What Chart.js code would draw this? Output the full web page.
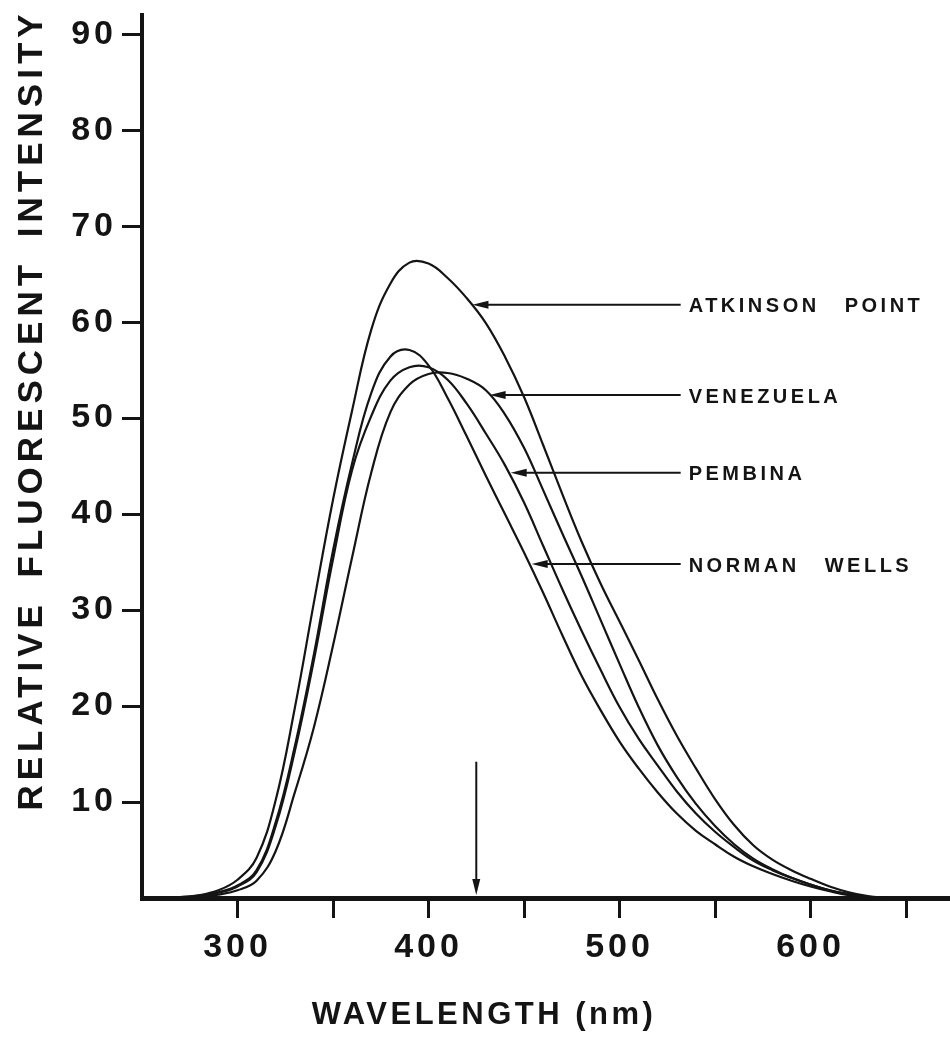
<!DOCTYPE html>
<html>
<head>
<meta charset="utf-8">
<title>Fluorescence spectra of crude oils</title>
<script src="https://cdn.jsdelivr.net/npm/chart.js@4"></script>
<style>
  html, body { margin: 0; padding: 0; background: #fff; }
  #wrap { width: 950px; height: 1038px; position: relative; }
</style>
</head>
<body>
<div id="wrap"><canvas id="spectra"></canvas></div>
<script>
// emission wavelength (nm) for every reading below
var wavelengths = [260, 270, 280, 290, 300, 310, 320, 330, 340, 350,
                   360, 370, 380, 390, 400, 410, 420, 430, 440, 450,
                   460, 470, 480, 490, 500, 510, 520, 530, 540, 550,
                   560, 570, 580, 590, 600, 610, 620, 630, 640];

// relative fluorescent intensity of each crude
var atkinsonPoint = [0, 0.1, 0.3, 0.8, 1.9, 4.2, 10.2, 19.8, 30.8, 41.5,
                     50.8, 59.2, 64.0, 66.2, 66.1, 64.6, 62.5, 59.9, 56.4, 52.2,
                     47.2, 42.1, 37.2, 32.8, 28.8, 24.8, 20.7, 16.9, 13.5, 10.3,
                     7.6, 5.5, 4.0, 2.9, 2.0, 1.2, 0.6, 0.2, 0];
var venezuela = [0, 0.03, 0.1, 0.35, 0.8, 1.8, 4.9, 11.0, 17.8, 26.3,
                 35.5, 44.3, 50.6, 53.5, 54.6, 54.7, 54.1, 52.9, 50.4, 46.9,
                 42.5, 38.0, 33.6, 29.0, 24.4, 19.9, 15.9, 12.6, 9.8, 7.5,
                 5.6, 4.1, 3.0, 2.1, 1.4, 0.8, 0.4, 0.1, 0];
var pembina = [0, 0.05, 0.2, 0.55, 1.2, 2.7, 7.5, 15.3, 24.8, 35.3,
               44.6, 50.2, 53.9, 55.3, 55.3, 54.0, 51.5, 48.4, 45.1, 41.2,
               36.7, 32.2, 27.9, 23.8, 19.9, 16.6, 13.8, 11.1, 8.8, 6.9,
               5.3, 3.9, 2.9, 2.1, 1.4, 0.8, 0.4, 0.1, 0];
var normanWells = [0, 0.05, 0.2, 0.6, 1.3, 2.9, 7.9, 15.8, 25.4, 36.2,
                   45.3, 52.6, 56.4, 57.1, 55.5, 52.1, 48.1, 44.0, 40.0, 36.0,
                   31.8, 27.4, 23.2, 19.6, 16.3, 13.5, 11.0, 8.8, 7.0, 5.6,
                   4.3, 3.3, 2.5, 1.8, 1.2, 0.7, 0.3, 0.1, 0];

var crudeNames = ['ATKINSON POINT', 'VENEZUELA', 'PEMBINA', 'NORMAN WELLS'];

// where each name's arrow touches its curve: [nm, intensity]
var calloutTips = [[423, 61.8], [432, 52.4], [443, 44.3], [454, 34.8]];
var calloutEnd = 532;       // nm where the leader lines stop
var excitation = 425;       // nm, marked with the upright arrow
var excitationTop = 14.2;

var xTicks = [300, 350, 400, 450, 500, 550, 600, 650];
var xLabelled = [300, 400, 500, 600];
var yTicks = [10, 20, 30, 40, 50, 60, 70, 80, 90];

var ink = '#141414';
var family = "'Liberation Sans', Arial, Helvetica, sans-serif";

function points(values) {
  return wavelengths.map(function (w, i) { return { x: w, y: values[i] }; });
}

function arrowHead(ctx, tipX, tipY, dx, dy) {
  var len = 16, half = 4;
  var bx = tipX - dx * len, by = tipY - dy * len;
  ctx.beginPath();
  ctx.moveTo(tipX, tipY);
  ctx.lineTo(bx - dy * half, by + dx * half);
  ctx.lineTo(bx + dy * half, by - dx * half);
  ctx.closePath();
  ctx.fill();
}

var decorations = {
  id: 'decorations',
  beforeDraw: function (chart) {
    // spaced-out tick numerals
    chart.ctx.letterSpacing = '4px';
  },
  afterDraw: function (chart) {
    var ctx = chart.ctx;
    var xs = chart.scales.x, ys = chart.scales.y;
    ctx.save();
    ctx.strokeStyle = ink;
    ctx.fillStyle = ink;
    ctx.lineWidth = 2;

    // name labels with leader arrows
    ctx.font = 'bold 20px ' + family;
    ctx.letterSpacing = '3.5px';
    ctx.wordSpacing = '16px';
    ctx.textBaseline = 'middle';
    ctx.textAlign = 'left';
    var ex = xs.getPixelForValue(calloutEnd);
    for (var i = 0; i < crudeNames.length; i++) {
      var tx = xs.getPixelForValue(calloutTips[i][0]);
      var ty = ys.getPixelForValue(calloutTips[i][1]);
      ctx.beginPath();
      ctx.moveTo(tx + 12, ty);
      ctx.lineTo(ex, ty);
      ctx.stroke();
      arrowHead(ctx, tx, ty, -1, 0);
      ctx.fillText(crudeNames[i], ex + 8, ty + 2);
    }

    // excitation wavelength arrow
    var vx = xs.getPixelForValue(excitation);
    var vTop = ys.getPixelForValue(excitationTop);
    var vTip = ys.getPixelForValue(0) - 3;
    ctx.beginPath();
    ctx.moveTo(vx, vTop);
    ctx.lineTo(vx, vTip - 12);
    ctx.stroke();
    arrowHead(ctx, vx, vTip, 0, 1);

    // axis titles
    ctx.wordSpacing = '8px';
    ctx.letterSpacing = '5px';
    ctx.font = 'bold 35px ' + family;
    ctx.textAlign = 'center';
    ctx.textBaseline = 'alphabetic';
    ctx.save();
    ctx.translate(42, 410);
    ctx.rotate(-Math.PI / 2);
    ctx.fillText('RELATIVE FLUORESCENT INTENSITY', 0, 0);
    ctx.restore();

    ctx.letterSpacing = '3.5px';
    ctx.wordSpacing = '0px';
    ctx.font = 'bold 31px ' + family;
    ctx.fillText('WAVELENGTH (nm)', 484, 1024);
    ctx.restore();
  }
};

var line = function (label, values) {
  return {
    label: label,
    data: points(values),
    borderColor: ink,
    borderWidth: 2.2,
    pointRadius: 0,
    fill: false,
    tension: 0.4
  };
};

var chart = new Chart(document.getElementById('spectra').getContext('2d'), {
  type: 'line',
  data: {
    datasets: [
      line('Atkinson Point', atkinsonPoint),
      line('Venezuela', venezuela),
      line('Pembina', pembina),
      line('Norman Wells', normanWells)
    ]
  },
  options: {
    responsive: true,
    maintainAspectRatio: false,
    animation: false,
    layout: { padding: { top: 15, right: 0, bottom: 0, left: 0 } },
    plugins: {
      legend: { display: false },
      tooltip: { enabled: false }
    },
    scales: {
      x: {
        type: 'linear',
        min: 250,
        max: 673,
        afterBuildTicks: function (axis) {
          axis.ticks = xTicks.map(function (v) { return { value: v }; });
        },
        afterFit: function (axis) {
          axis.height = 140;
          axis.paddingLeft = 0;
          axis.paddingRight = 0;
        },
        border: { display: true, color: ink, width: 5 },
        grid: {
          drawOnChartArea: false,
          drawTicks: true,
          tickLength: 20,
          tickWidth: 3,
          tickColor: ink
        },
        ticks: {
          autoSkip: false,
          maxRotation: 0,
          padding: 9,
          color: ink,
          font: { family: family, size: 34, weight: 'bold' },
          callback: function (v) { return xLabelled.indexOf(v) >= 0 ? String(v) : ''; }
        }
      },
      y: {
        type: 'linear',
        min: 0,
        max: 92,
        afterBuildTicks: function (axis) {
          axis.ticks = yTicks.map(function (v) { return { value: v }; });
        },
        afterFit: function (axis) {
          axis.width = 142;
          axis.paddingTop = 0;
          axis.paddingBottom = 0;
        },
        border: { display: true, color: ink, width: 4 },
        grid: {
          drawOnChartArea: false,
          drawTicks: true,
          tickLength: 20,
          tickWidth: 3,
          tickColor: ink
        },
        ticks: {
          padding: 5,
          color: ink,
          font: { family: family, size: 34, weight: 'bold' },
          callback: function (v) { return String(v); }
        }
      }
    }
  },
  plugins: [decorations]
});
</script>
</body>
</html>
